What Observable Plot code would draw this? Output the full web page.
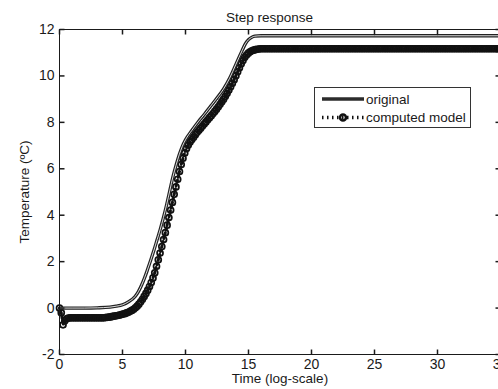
<!DOCTYPE html>
<html><head><meta charset="utf-8">
<script src="https://cdn.jsdelivr.net/npm/d3@7"></script>
<script src="https://cdn.jsdelivr.net/npm/@observablehq/plot@0.6"></script>
<style>
html,body{margin:0;padding:0;background:#fff;overflow:hidden}
#chart{position:relative;width:498px;height:389px}
</style></head><body><div id="chart"></div>
<script>
const title = "Step response";
const xLabel = "Time (log-scale)";
const yLabel = "Temperature (ºC)";
const seriesNames = ["original", "computed model"];
const xTicks = [0, 5, 10, 15, 20, 25, 30, 35];
const yTicks = [-2, 0, 2, 4, 6, 8, 10, 12];
const xDomain = [0, 35];
const yDomain = [-2, 12];

// original step response (solid line)
const originalTime = [0, 1, 2, 3, 4, 4.5, 5, 5.5, 6, 6.25, 6.5, 6.75, 7, 7.25, 7.5, 7.75, 8, 8.25, 8.5, 8.75, 9, 9.25, 9.5, 9.75, 10, 10.5, 11, 11.5, 12, 12.5, 13, 13.5, 14, 14.5, 14.75, 15, 15.25, 15.5, 16, 20, 25, 30, 35];
const originalTemp = [0, 0, 0, 0.01, 0.04, 0.08, 0.14, 0.28, 0.5, 0.7, 0.97, 1.3, 1.68, 2.08, 2.5, 2.95, 3.4, 3.9, 4.45, 5.05, 5.65, 6.15, 6.6, 6.97, 7.25, 7.65, 8.02, 8.35, 8.7, 9.05, 9.42, 9.9, 10.5, 11.1, 11.38, 11.56, 11.66, 11.71, 11.73, 11.73, 11.73, 11.73, 11.73];

// computed model, sampled every modelStep seconds (circle markers)
const modelStep = 0.14;
const modelTemp = [
  0.00, -0.20, -0.72, -0.55, -0.46, -0.43,
  -0.42, -0.42, -0.42, -0.42, -0.42, -0.42, -0.42, -0.42, -0.42, -0.42,
  -0.42, -0.42, -0.42, -0.42, -0.42, -0.42, -0.42, -0.42, -0.42, -0.42,
  -0.41, -0.40, -0.39, -0.38, -0.36, -0.35, -0.33, -0.32, -0.30, -0.28,
  -0.26, -0.24, -0.21, -0.18, -0.14, -0.10, -0.05, 0.01, 0.08, 0.17,
  0.27, 0.38, 0.50, 0.63, 0.77, 0.93, 1.10, 1.30, 1.52, 1.80,
  2.08, 2.37, 2.65, 2.95, 3.25, 3.57, 3.90, 4.22, 4.55, 4.90,
  5.22, 5.55, 5.88, 6.18, 6.45, 6.68, 6.87, 7.02, 7.15, 7.26,
  7.36, 7.47, 7.57, 7.66, 7.75, 7.84, 7.93, 8.02, 8.11, 8.20,
  8.29, 8.38, 8.47, 8.57, 8.67, 8.78, 8.89, 9.00, 9.12, 9.25,
  9.39, 9.53, 9.68, 9.84, 10.01, 10.18, 10.35, 10.52, 10.67, 10.80,
  10.90, 10.98, 11.04, 11.08, 11.11, 11.13, 11.15, 11.16,
  11.17, 11.17, 11.17, 11.17, 11.17, 11.17, 11.17, 11.17, 11.17, 11.17,
  11.17, 11.17, 11.17, 11.17, 11.17, 11.17, 11.17, 11.17, 11.17, 11.17,
  11.17, 11.17, 11.17, 11.17, 11.17, 11.17, 11.17, 11.17, 11.17, 11.17,
  11.17, 11.17, 11.17, 11.17, 11.17, 11.17, 11.17, 11.17, 11.17, 11.17,
  11.17, 11.17, 11.17, 11.17, 11.17, 11.17, 11.17, 11.17, 11.17, 11.17,
  11.17, 11.17, 11.17, 11.17, 11.17, 11.17, 11.17, 11.17, 11.17, 11.17,
  11.17, 11.17, 11.17, 11.17, 11.17, 11.17, 11.17, 11.17, 11.17, 11.17,
  11.17, 11.17, 11.17, 11.17, 11.17, 11.17, 11.17, 11.17, 11.17, 11.17,
  11.17, 11.17, 11.17, 11.17, 11.17, 11.17, 11.17, 11.17, 11.17, 11.17,
  11.17, 11.17, 11.17, 11.17, 11.17, 11.17, 11.17, 11.17, 11.17, 11.17,
  11.17, 11.17, 11.17, 11.17, 11.17, 11.17, 11.17, 11.17, 11.17, 11.17,
  11.17, 11.17, 11.17, 11.17, 11.17, 11.17, 11.17, 11.17, 11.17, 11.17,
  11.17, 11.17, 11.17, 11.17, 11.17, 11.17, 11.17, 11.17, 11.17, 11.17,
  11.17, 11.17, 11.17, 11.17, 11.17, 11.17, 11.17
];

const original = originalTime.map((t, i) => ({series: seriesNames[0], t, v: originalTemp[i]}));
const model = modelTemp.map((v, i) => ({series: seriesNames[1], t: +(i * modelStep).toFixed(2), v}));

const FONT = "'Liberation Sans', Arial, Helvetica, sans-serif";
const INK = "#1a1a1a";
const TL = 5;
const tickSym = (dx, dy) => ({draw(ctx) { ctx.moveTo(0, 0); ctx.lineTo(dx, dy); }});

const plot = Plot.plot({
  width: 498, height: 389,
  marginTop: 29, marginBottom: 35, marginLeft: 59, marginRight: -2,
  x: {domain: xDomain, range: [59, 500], axis: null},
  y: {domain: yDomain, range: [354, 29], axis: null},
  style: {fontFamily: FONT, background: "#fff", overflow: "hidden", color: INK},
  marks: [
    Plot.line(model, {x: "t", y: "v", stroke: "#111", strokeWidth: 3, strokeDasharray: "1.5,3"}),
    Plot.dot(model, {x: "t", y: "v", r: 3, stroke: "#111", strokeWidth: 1.7, fill: "none"}),
    Plot.line(original, {x: "t", y: "v", stroke: "#222", strokeWidth: 3.3, curve: "monotone-x"}),
    Plot.line(original, {x: "t", y: "v", stroke: "#f2f2f2", strokeWidth: 0.9, curve: "monotone-x"}),
    Plot.ruleX(xDomain, {y1: yDomain[0], y2: yDomain[1], stroke: INK, strokeWidth: 1}),
    Plot.ruleY(yDomain, {x1: xDomain[0], x2: xDomain[1], stroke: INK, strokeWidth: 1}),
    Plot.dot(xTicks, {x: d => d, y: yDomain[0], symbol: tickSym(0, -TL), stroke: INK, fill: "none"}),
    Plot.dot(xTicks, {x: d => d, y: yDomain[1], symbol: tickSym(0, TL), stroke: INK, fill: "none"}),
    Plot.dot(yTicks, {x: xDomain[0], y: d => d, symbol: tickSym(TL, 0), stroke: INK, fill: "none"}),
    Plot.dot(yTicks, {x: xDomain[1], y: d => d, symbol: tickSym(-TL, 0), stroke: INK, fill: "none"}),
    Plot.text(xTicks, {x: d => d, y: yDomain[0], dy: 10, text: d => String(d), fontSize: 14, fill: INK}),
    Plot.text(yTicks, {x: xDomain[0], y: d => d, dx: -5, textAnchor: "end", text: d => String(d), fontSize: 14, fill: INK}),
    Plot.text([title], {frameAnchor: "top", dy: -17, dx: -10.5, text: d => d, fontSize: 13.5, fill: INK}),
    Plot.text([xLabel], {frameAnchor: "bottom", dy: 28, text: d => d, fontSize: 13.5, fill: INK}),
    Plot.text([yLabel], {frameAnchor: "left", dx: -35, rotate: -90, textAnchor: "middle", text: d => d, fontSize: 13.5, fill: INK})
  ]
});

// legend box
const svg = d3.select(plot);
const lg = svg.append("g").attr("font-family", FONT).attr("font-size", 13.5).attr("fill", INK).attr("text-anchor", "start");
lg.append("rect").attr("x", 314.5).attr("y", 87.5).attr("width", 156).attr("height", 40)
  .attr("fill", "#fff").attr("stroke", "#333").attr("stroke-width", 1);
lg.append("line").attr("x1", 322).attr("x2", 364).attr("y1", 99).attr("y2", 99)
  .attr("stroke", "#2b2b2b").attr("stroke-width", 3.6);
lg.append("line").attr("x1", 322).attr("x2", 364).attr("y1", 117.5).attr("y2", 117.5)
  .attr("stroke", "#111").attr("stroke-width", 3.5).attr("stroke-dasharray", "1.5,3.5");
lg.append("circle").attr("cx", 343).attr("cy", 117.5).attr("r", 3)
  .attr("fill", "none").attr("stroke", "#111").attr("stroke-width", 2.6);
lg.append("text").attr("x", 366).attr("y", 99).attr("dy", "0.35em").text(seriesNames[0]);
lg.append("text").attr("x", 366).attr("y", 117.5).attr("dy", "0.35em").text(seriesNames[1]);

document.getElementById("chart").appendChild(plot);
</script>
</body></html>
